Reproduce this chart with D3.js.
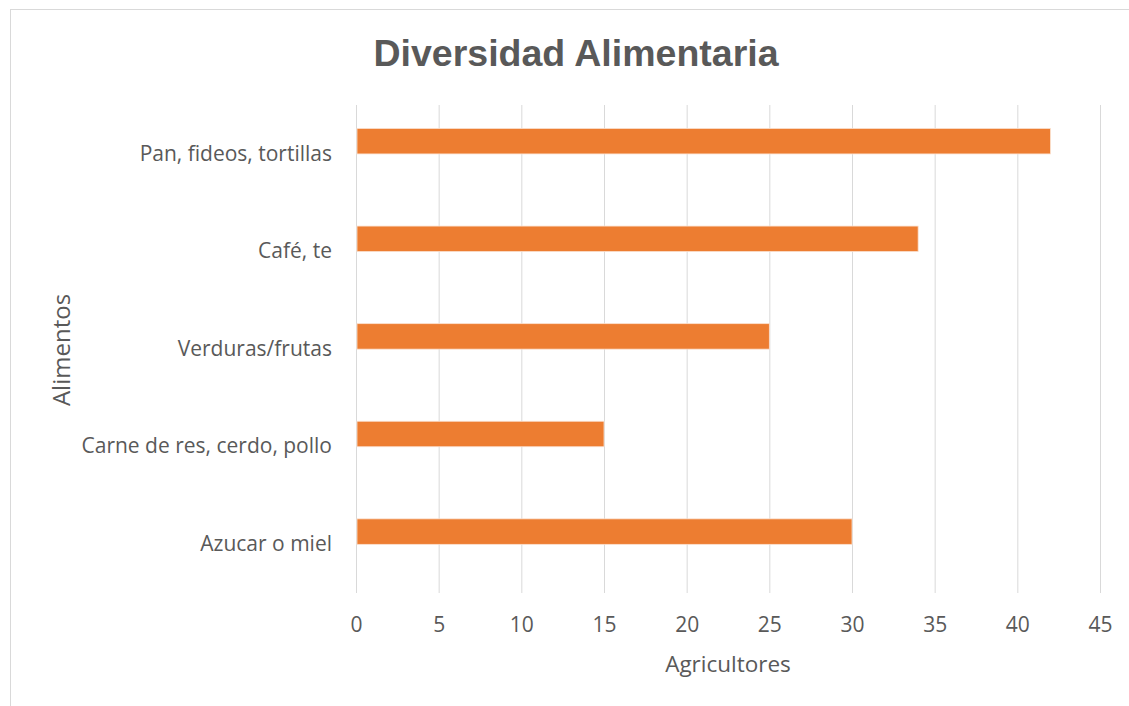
<!DOCTYPE html>
<html>
<head>
<meta charset="utf-8">
<script src="https://cdn.jsdelivr.net/npm/d3@7"></script>
<style>
  html, body { margin: 0; padding: 0; background: #fff; }
  svg { display: block; }
</style>
</head>
<body>
<svg id="chart" width="1129" height="706"></svg>
<script>
// Food groups (top to bottom) and number of farmers reporting each
const categories = ["Pan, fideos, tortillas", "Café, te", "Verduras/frutas", "Carne de res, cerdo, pollo", "Azucar o miel"];
const values = [42, 34, 25, 15, 30];
const xTicks = [0, 5, 10, 15, 20, 25, 30, 35, 40, 45];

const svg = d3.select("#chart");
const textColor = "#595959";
const font = "'Open Sans', 'Noto Sans', sans-serif";

// Chart frame
svg.append("rect")
  .attr("x", 10.5).attr("y", 9.5)
  .attr("width", 1130).attr("height", 710)
  .attr("fill", "#fff").attr("stroke", "#d9d9d9").attr("stroke-width", 1);

const left = 356, right = 1100;
const plotTop = 105, plotBottom = 593;

const x = d3.scaleLinear().domain([0, 45]).range([left, right]);
// Category bands for the labels
const yLabel = d3.scaleBand().domain(categories).range([plotTop, plotBottom]);
// Bars sit slightly above their label band
const yBar = d3.scaleBand().domain(categories).range([plotTop - 12.6, plotBottom - 12.6]).paddingInner(0.739).paddingOuter(0.3695);

// Vertical gridlines
svg.append("g").selectAll("line")
  .data(xTicks).join("line")
  .attr("x1", d => x(d) + 0.5).attr("x2", d => x(d) + 0.5)
  .attr("y1", plotTop).attr("y2", plotBottom)
  .attr("stroke", "#d9d9d9").attr("stroke-width", 1);

// Bars
svg.append("g").selectAll("rect")
  .data(values).join("rect")
  .attr("x", x(0) + 1)
  .attr("y", (d, i) => yBar(categories[i]))
  .attr("width", d => x(d) - x(0) - 1)
  .attr("height", yBar.bandwidth())
  .attr("fill", "#ED7D31")
  .attr("stroke", "#fbe0cf").attr("stroke-width", 0.8);

// X tick labels
const xAxis = d3.axisBottom(x).tickValues(xTicks).tickSize(0).tickPadding(0);
const gx = svg.append("g").attr("transform", `translate(0, 632)`).call(xAxis);
gx.select(".domain").remove();
gx.selectAll("text")
  .attr("dy", 0)
  .attr("font-family", font).attr("font-size", 21).attr("fill", textColor);

// Y category labels
const yAxis = d3.axisLeft(yLabel).tickSize(0).tickPadding(0);
const gy = svg.append("g").attr("transform", `translate(332, 0)`).call(yAxis);
gy.select(".domain").remove();
gy.selectAll("text")
  .attr("font-family", font).attr("font-size", 21).attr("fill", textColor);

// Title
svg.append("text")
  .attr("x", 576).attr("y", 66)
  .attr("text-anchor", "middle")
  .attr("font-family", "'Liberation Sans', Arial, sans-serif")
  .attr("font-weight", "bold").attr("font-size", 37.5)
  .attr("fill", textColor)
  .text("Diversidad Alimentaria");

// Axis titles
svg.append("text")
  .attr("x", (left + right) / 2).attr("y", 672)
  .attr("text-anchor", "middle")
  .attr("font-family", font).attr("font-size", 22.5).attr("fill", textColor)
  .text("Agricultores");

svg.append("text")
  .attr("transform", "translate(70, 350) rotate(-90)")
  .attr("text-anchor", "middle")
  .attr("font-family", font).attr("font-size", 24).attr("fill", textColor)
  .text("Alimentos");
</script>
</body>
</html>
